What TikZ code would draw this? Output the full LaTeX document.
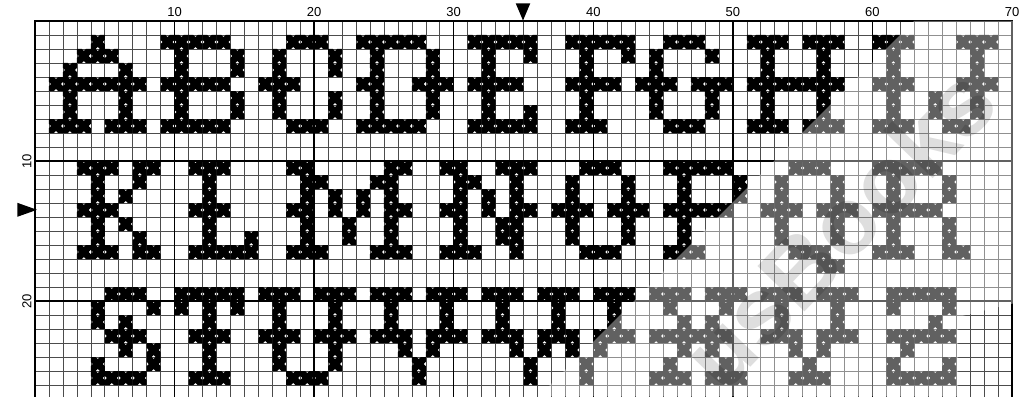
\documentclass[tikz,border=0pt]{standalone}
\usepackage{fontspec}
\setmainfont{Liberation Sans}
\tikzset{
  minorline/.style={draw=black!70,line width=0.6pt},
  majorline/.style={draw=black,line width=1.3pt},
  stitch/.style={fill=black},
  lbl/.style={font=\fontsize{13}{13}\selectfont,inner sep=0pt},
  marker/.style={fill=black},
}
\newcommand\xrow[2]{\foreach \cc in {#2}{\fill[stitch,shift={(\cc,#1)}] (0,0) -- (.35,0) -- (.5,.15) -- (.65,0) -- (1,0) -- (1,.35) -- (.85,.5) -- (1,.65) -- (1,1) -- (.65,1) -- (.5,.85) -- (.35,1) -- (0,1) -- (0,.65) -- (.15,.5) -- (0,.35) -- cycle;}}
\begin{document}
\begin{tikzpicture}[x=1pt,y=-1pt]
\useasboundingbox (0,0) rectangle (1027,396);
\fill[white] (0,0) rectangle (1027,396);
\begin{scope}[x=13.957pt,y=-14pt,shift={(35pt,-21pt)}]
  % grid
  \foreach \i in {0,...,70} \draw[minorline] (\i,0) -- (\i,26.9);
  \foreach \j in {0,...,26} \draw[minorline] (0,\j) -- (70,\j);
  \foreach \i in {10,20,30,40,50,60} \draw[majorline] (\i,0) -- (\i,26.9);
  \foreach \j in {10,20} \draw[majorline] (0,\j) -- (70,\j);
  \draw[majorline] (0,26.9) -- (0,0) -- (70,0) -- (70,26.9);
  % band 1: A-J
  \xrow{1}{4, 9,10,11,12,13, 18,19,20, 23,24,25,26,27, 31,32,33,34,35, 38,39,40,41,42, 45,46,47, 51,52,53,55,56,57, 60,61,62, 66,67,68}
  \xrow{2}{3,4,5, 10,14, 17,21, 24,28, 32,35, 39,42, 44,48, 52,56, 61, 67}
  \xrow{3}{2,6, 10,14, 17,21, 24,28, 32, 39, 44, 52,56, 61, 67}
  \xrow{4}{1,2,3,4,5,6,7, 9,10,11,12,13, 16,17,18, 23,24,27,28,29, 31,32,33,34, 38,39,40,41, 43,44,45,47,48,49, 51,52,53,54,55,56,57, 60,61,62, 66,67,68}
  \xrow{5}{2,6, 10,14, 17,21, 24,28, 32, 39, 44,48, 52,56, 61, 64,67}
  \xrow{6}{2,6, 10,14, 17,21, 24,28, 32,35, 39, 44,48, 52,56, 61, 64,67}
  \xrow{7}{1,2,3,5,6,7, 9,10,11,12,13, 18,19,20, 23,24,25,26,27, 31,32,33,34,35, 38,39,40, 45,46,47, 51,52,53,55,56,57, 60,61,62, 65,66}
  % band 2: K-R
  \xrow{10}{3,4,5,7,8, 11,12,13, 18,19,25,26, 29,30,33,34,35, 39,40,41, 45,46,47,48,49, 54,55,56, 60,61,62,63,64}
  \xrow{11}{4,7, 12, 19,20,24,25, 30,31,34, 38,42, 46,50, 53,57, 61,65}
  \xrow{12}{4,6, 12, 19,21,23,25, 30,32,34, 38,42, 46,50, 53,57, 61,65}
  \xrow{13}{3,4,5, 11,12,13, 18,19,21,23,25,26, 29,30,32,34,35, 37,38,39,41,42,43, 45,46,47,48,49, 52,53,54,56,57,58, 60,61,62,63,64}
  \xrow{14}{4,6, 12, 19,22,25, 30,33,34, 38,42, 46, 53,57, 61,65}
  \xrow{15}{4,7, 12,15, 19,22,25, 30,33,34, 38,42, 46, 53,57, 61,65}
  \xrow{16}{3,4,5,7,8, 11,12,13,14,15, 18,19,20,24,25,26, 29,30,31,34, 39,40,41, 45,46,47, 54,55,56, 60,61,62,65,66}
  \xrow{17}{56,57}
  % band 3: S-Z
  \xrow{19}{5,6,7, 10,11,12,13,14, 16,17,18,20,21,22, 24,25,26,28,29,30, 32,33,34,36,37,38,40,41,42, 44,45,46,48,49,50, 52,53,54,56,57,58, 61,62,63,64,65}
  \xrow{20}{4,8, 10,12,14, 17,21, 25,29, 33,37,41, 45,49, 53,57, 61,65}
  \xrow{21}{4,6, 12, 17,21, 25,29, 33,37,41, 46,48, 53,57, 64}
  \xrow{22}{5,6,7, 11,12,13, 16,17,18,20,21,22, 24,25,26,28,29,30, 32,33,34,36,37,38,40,41,42, 44,45,46,47,48,49, 52,53,54,56,57,58, 61,62,63,64,65}
  \xrow{23}{6,8, 12, 17,21, 26,28, 34,36,38,40, 46,48, 54,56, 62}
  \xrow{24}{4,8, 12, 17,21, 27, 35,39, 45,49, 55, 61,65}
  \xrow{25}{4,5,6,7, 11,12,13, 18,19,20, 27, 35,39, 44,45,46,48,49,50, 54,55,56, 61,62,63,64,65}
\end{scope}
% column and row numbers
\foreach \k/\t in {174.6/10,314.1/20,453.7/30,593.3/40,732.9/50,872.4/60,1012.0/70}
  \node[lbl] (c\t) at (\k,12) {\t};
\node[lbl,rotate=90] (r10) at (27,161) {10};
\node[lbl,rotate=90] (r20) at (27,301) {20};
% centre markers
\fill[marker] (515.7,3.3) -- (530.3,3.3) -- (523,20.5) -- cycle;
\fill[marker] (17.3,202.8) -- (17.3,216.8) -- (37,209.8) -- cycle;
% watermark band
\fill[white,opacity=0.38] (914,21) -- (1027,21) -- (1027,300) -- (958,317) -- (958,396) -- (539,396) -- cycle;
\node[rotate=46,text=black,opacity=0.13,font=\fontsize{95}{95}\selectfont\bfseries] (wm) at (838,228) {usBooks};
\end{tikzpicture}
\end{document}
